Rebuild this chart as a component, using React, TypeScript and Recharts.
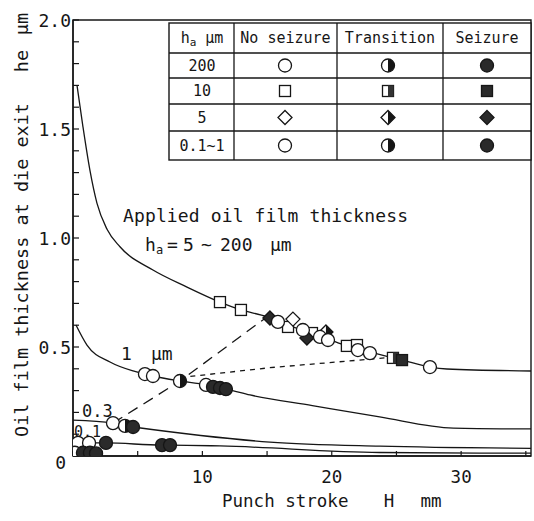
import React from 'react';
import { ComposedChart, Line, Scatter, XAxis, YAxis, ReferenceArea } from 'recharts';

const INK = '#161616';
const FONT = '"DejaVu Sans Mono", monospace';

// ---- curves (Punch stroke H mm, oil film thickness he um) ----
const appliedCurve = [
  { x: 0.31, y: 1.70 }, { x: 0.77, y: 1.51 }, { x: 1.31, y: 1.31 }, { x: 1.85, y: 1.16 },
  { x: 2.63, y: 1.04 }, { x: 3.63, y: 0.96 }, { x: 6.18, y: 0.853 }, { x: 8.81, y: 0.775 },
  { x: 11.36, y: 0.706 }, { x: 12.98, y: 0.67 }, { x: 14.99, y: 0.638 }, { x: 15.84, y: 0.615 },
  { x: 17.77, y: 0.578 }, { x: 19.71, y: 0.537 }, { x: 21.17, y: 0.505 }, { x: 22.95, y: 0.477 },
  { x: 24.73, y: 0.45 }, { x: 25.43, y: 0.44 }, { x: 27.59, y: 0.408 }, { x: 28.9, y: 0.399 },
  { x: 35.4, y: 0.39 },
];
const curve1um = [
  { x: 0.23, y: 0.601 }, { x: 1.08, y: 0.509 }, { x: 2.86, y: 0.431 }, { x: 4.64, y: 0.39 },
  { x: 5.56, y: 0.376 }, { x: 6.18, y: 0.367 }, { x: 8.27, y: 0.344 }, { x: 10.28, y: 0.326 },
  { x: 10.82, y: 0.317 }, { x: 11.36, y: 0.312 }, { x: 11.82, y: 0.307 }, { x: 13.68, y: 0.28 },
  { x: 18.5, y: 0.231 }, { x: 23.7, y: 0.179 }, { x: 29.4, y: 0.128 }, { x: 35.4, y: 0.124 },
];
const curve03 = [
  { x: 0, y: 0.165 }, { x: 3.09, y: 0.151 }, { x: 4.02, y: 0.138 }, { x: 4.64, y: 0.133 },
  { x: 15.22, y: 0.064 }, { x: 23.7, y: 0.045 }, { x: 35.4, y: 0.035 },
];
const curve01 = [
  { x: 0.39, y: 0.06 }, { x: 1.24, y: 0.06 }, { x: 2.55, y: 0.06 }, { x: 6.88, y: 0.05 },
  { x: 7.5, y: 0.05 }, { x: 11.36, y: 0.046 }, { x: 23.7, y: 0.016 }, { x: 35.4, y: 0.013 },
];
const longDashBoundary = [
  { x: 3.09, y: 0.151 }, { x: 8.27, y: 0.344 }, { x: 14.99, y: 0.638 },
];
const shortDashBoundary = [
  { x: 8.3, y: 0.36 }, { x: 15.2, y: 0.405 }, { x: 24.5, y: 0.452 },
];

// ---- markers ----
const noSeizureCircles = [
  { x: 15.84, y: 0.615 }, { x: 17.77, y: 0.578 }, { x: 19.09, y: 0.546 }, { x: 19.71, y: 0.532 },
  { x: 22.02, y: 0.486 }, { x: 22.95, y: 0.472 }, { x: 27.59, y: 0.408 },
  { x: 5.56, y: 0.376 }, { x: 6.18, y: 0.367 }, { x: 10.28, y: 0.326 },
  { x: 3.09, y: 0.151 }, { x: 0.39, y: 0.06 }, { x: 1.24, y: 0.06 }, { x: 0.15, y: 0.015 },
];
const transitionCircles = [{ x: 8.27, y: 0.344 }, { x: 4.02, y: 0.138 }];
const seizureCircles = [
  { x: 10.82, y: 0.317 }, { x: 11.36, y: 0.312 }, { x: 11.82, y: 0.307 }, { x: 4.64, y: 0.133 },
  { x: 2.55, y: 0.06 }, { x: 6.88, y: 0.05 }, { x: 7.5, y: 0.05 },
  { x: 0.77, y: 0.015 }, { x: 1.31, y: 0.015 }, { x: 1.78, y: 0.012 },
];
const noSeizureSquares = [
  { x: 11.36, y: 0.706 }, { x: 12.98, y: 0.67 }, { x: 16.62, y: 0.592 }, { x: 18.47, y: 0.564 },
  { x: 21.17, y: 0.505 }, { x: 21.95, y: 0.509 },
];
const transitionSquares = [{ x: 24.73, y: 0.45 }];
const seizureSquares = [{ x: 25.43, y: 0.44 }];
const noSeizureDiamonds = [{ x: 17.0, y: 0.628 }];
const transitionDiamonds = [{ x: 19.55, y: 0.569 }];
const seizureDiamonds = [{ x: 15.22, y: 0.633 }, { x: 18.08, y: 0.541 }];

// ---- ticks ----
const xTicks = [0, 5, 10, 15, 20, 25, 30, 35];
const xTickLabels = ['10', '20', '30'];
const yTicks = [0, 0.1, 0.2, 0.3, 0.4, 0.5, 0.6, 0.7, 0.8, 0.9, 1.0, 1.1, 1.2, 1.3, 1.4, 1.5, 1.6, 1.7, 1.8, 1.9, 2.0];
const yTickLabels = ['0', '0.5', '1.0', '1.5', '2.0'];

// ---- legend table ----
const tableHeaders = ['No seizure', 'Transition', 'Seizure'];
const tableRows = ['200', '10', '5', '0.1~1'];

// ---- marker shapes ----
const R = 6.5;
const OpenCircle = (p: any) => (
  <circle cx={p.cx} cy={p.cy} r={R} fill="#fff" stroke={INK} strokeWidth={1.3} />
);
const HalfCircle = (p: any) => (
  <g>
    <circle cx={p.cx} cy={p.cy} r={R} fill="#fff" stroke={INK} strokeWidth={1.3} />
    <path d={`M${p.cx},${p.cy - R} A${R},${R} 0 0 1 ${p.cx},${p.cy + R} Z`} fill={INK} />
  </g>
);
const FullCircle = (p: any) => (
  <circle cx={p.cx} cy={p.cy} r={R} fill="#2a2a2a" stroke={INK} strokeWidth={1.3} />
);
const S = 5.5;
const OpenSquare = (p: any) => (
  <rect x={p.cx - S} y={p.cy - S} width={2 * S} height={2 * S} fill="#fff" stroke={INK} strokeWidth={1.3} />
);
const HalfSquare = (p: any) => (
  <g>
    <rect x={p.cx - S} y={p.cy - S} width={2 * S} height={2 * S} fill="#fff" stroke={INK} strokeWidth={1.3} />
    <rect x={p.cx} y={p.cy - S} width={S} height={2 * S} fill="#333" />
  </g>
);
const FullSquare = (p: any) => (
  <rect x={p.cx - S} y={p.cy - S} width={2 * S} height={2 * S} fill="#2a2a2a" stroke={INK} strokeWidth={1.3} />
);
const D = 7;
const dPath = (cx: number, cy: number) => `M${cx},${cy - D} L${cx + D},${cy} L${cx},${cy + D} L${cx - D},${cy} Z`;
const OpenDiamond = (p: any) => <path d={dPath(p.cx, p.cy)} fill="#fff" stroke={INK} strokeWidth={1.3} />;
const HalfDiamond = (p: any) => (
  <g>
    <path d={dPath(p.cx, p.cy)} fill="#fff" stroke={INK} strokeWidth={1.3} />
    <path d={`M${p.cx},${p.cy - D} L${p.cx + D},${p.cy} L${p.cx},${p.cy + D} Z`} fill={INK} />
  </g>
);
const FullDiamond = (p: any) => <path d={dPath(p.cx, p.cy)} fill="#2a2a2a" stroke={INK} strokeWidth={1.3} />;

const fmtY = (v: number) => {
  const s = v === 0 ? '0' : v.toFixed(1);
  return yTickLabels.includes(s) ? s : '';
};
const fmtX = (v: number) => (xTickLabels.includes(String(v)) ? String(v) : '');

const YTick = (p: any) => {
  const lbl = fmtY(p.payload.value);
  if (!lbl) return <g />;
  const zero = p.payload.value === 0;
  return (
    <text x={zero ? p.x - 5 : p.x} y={p.y + (zero ? 13 : 6.5)} textAnchor="end" fontFamily={FONT} fontSize={18} fill={INK}>
      {lbl}
    </text>
  );
};
const XTick = (p: any) => {
  const lbl = fmtX(p.payload.value);
  if (!lbl) return <g />;
  return (
    <text x={p.x} y={p.y} textAnchor="middle" fontFamily={FONT} fontSize={17.5} fill={INK}>
      {lbl}
    </text>
  );
};

const colX = [169, 234, 337, 443, 531];
const rowY = [23, 53, 78, 104, 131, 160];
const rowShapes = [
  [OpenCircle, HalfCircle, FullCircle],
  [OpenSquare, HalfSquare, FullSquare],
  [OpenDiamond, HalfDiamond, FullDiamond],
  [OpenCircle, HalfCircle, FullCircle],
];
const markerX = [285, 388, 487];

const Overlay = () => (
  <svg width={534} height={521} style={{ position: 'absolute', left: 0, top: 0 }}>
    <text transform="translate(22,270) rotate(-90)" dy="0.35em" textAnchor="middle" fontFamily={FONT} fontSize={18.5} fill={INK} textLength={334} lengthAdjust="spacing">
      Oil film thickness at die exit
    </text>
    <text transform="translate(22,61) rotate(-90)" dy="0.35em" textAnchor="middle" fontFamily={FONT} fontSize={18.5} fill={INK}>he</text>
    <text transform="translate(22,24) rotate(-90)" dy="0.35em" textAnchor="middle" fontFamily={FONT} fontSize={18.5} fill={INK}>µm</text>
    <text x={222} y={507} fontFamily={FONT} fontSize={17.5} fill={INK}>Punch stroke</text>
    <text x={389} y={507} textAnchor="middle" fontFamily={FONT} fontSize={17.5} fill={INK}>H</text>
    <text x={431} y={507} textAnchor="middle" fontFamily={FONT} fontSize={17.5} fill={INK}>mm</text>
    <text x={123} y={222} fontFamily={FONT} fontSize={18} fill={INK} textLength={285} lengthAdjust="spacing">Applied oil film thickness</text>
    <text x={145} y={251} fontFamily={FONT} fontSize={18} fill={INK}>h</text>
    <text x={156} y={254} fontFamily={FONT} fontSize={12} fill={INK}>a</text>
    <text x={167} y={251} fontFamily={FONT} fontSize={18} fill={INK}>=</text>
    <text x={183} y={251} fontFamily={FONT} fontSize={18} fill={INK}>5</text>
    <text x={201} y={251} fontFamily={FONT} fontSize={18} fill={INK}>~</text>
    <text x={220} y={251} fontFamily={FONT} fontSize={18} fill={INK}>200</text>
    <text x={270} y={251} fontFamily={FONT} fontSize={18} fill={INK}>µm</text>
    <text x={121} y={360} fontFamily={FONT} fontSize={18} fill={INK}>1</text>
    <text x={151} y={360} fontFamily={FONT} fontSize={18} fill={INK}>µm</text>
    <text x={82} y={417} fontFamily={FONT} fontSize={17} fill={INK}>0.3</text>
    <text x={74} y={437} fontFamily={FONT} fontSize={15} fill={INK}>0.1</text>
  </svg>
);

const TableOverlay = () => (
  <svg width={534} height={521} style={{ position: 'absolute', left: 0, top: 0, pointerEvents: 'none' }}>
    <rect x={colX[0]} y={rowY[0]} width={colX[4] - colX[0]} height={rowY[5] - rowY[0]} fill="#fff" stroke={INK} strokeWidth={1.4} />
    {colX.slice(1, 4).map((cx) => (
      <line key={'c' + cx} x1={cx} x2={cx} y1={rowY[0]} y2={rowY[5]} stroke={INK} strokeWidth={1.3} />
    ))}
    {rowY.slice(1, 5).map((ry) => (
      <line key={'r' + ry} x1={colX[0]} x2={colX[4]} y1={ry} y2={ry} stroke={INK} strokeWidth={1.3} />
    ))}
    <text x={202} y={43} textAnchor="middle" fontFamily={FONT} fontSize={15} fill={INK}>
      h<tspan fontSize={11} dy={3}>a</tspan><tspan dy={-3}> µm</tspan>
    </text>
    {tableHeaders.map((h, i) => (
      <text key={h} x={(colX[i + 1] + colX[i + 2]) / 2} y={43} textAnchor="middle" fontFamily={FONT} fontSize={15} fill={INK}>
        {h}
      </text>
    ))}
    {tableRows.map((r, i) => {
      const cy = (rowY[i + 1] + rowY[i + 2]) / 2;
      return (
        <g key={r}>
          <text x={202} y={cy + 5} textAnchor="middle" fontFamily={FONT} fontSize={15} fill={INK}>{r}</text>
          {rowShapes[i].map((Sh, j) => (
            <Sh key={j} cx={markerX[j]} cy={cy} />
          ))}
        </g>
      );
    })}
  </svg>
);

export default function App() {
  return (
    <div style={{ position: 'absolute', left: 0, top: 0, width: 534, height: 521, overflow: 'hidden', background: '#fff' }}>
      <Overlay />
      <div style={{ position: 'absolute', left: 0, top: 0 }}>
        <ComposedChart width={534} height={521} margin={{ top: 20, right: 3, left: 0, bottom: 0 }}>
          <XAxis
            dataKey="x"
            type="number"
            domain={[0, 35.4]}
            allowDataOverflow
            ticks={xTicks}
            interval={0}
            height={65}
            tickSize={-5}
            tickMargin={32}
            tick={<XTick />}
            axisLine={{ stroke: INK, strokeWidth: 1.4 }}
            tickLine={{ stroke: INK, strokeWidth: 1.2 }}
          />
          <YAxis
            dataKey="y"
            type="number"
            domain={[0, 2]}
            allowDataOverflow
            ticks={yTicks}
            interval={0}
            width={73}
            tickSize={-6}
            tickMargin={8}
            tick={<YTick />}
            axisLine={{ stroke: INK, strokeWidth: 1.4 }}
            tickLine={{ stroke: INK, strokeWidth: 1.2 }}
          />
          <ReferenceArea x1={0} x2={35.4} y1={0} y2={2} fill="none" stroke={INK} strokeWidth={1.4} ifOverflow="visible" />
          <Line data={appliedCurve} dataKey="y" type="monotone" dot={false} stroke={INK} strokeWidth={1.3} isAnimationActive={false} />
          <Line data={curve1um} dataKey="y" type="monotone" dot={false} stroke={INK} strokeWidth={1.3} isAnimationActive={false} />
          <Line data={curve03} dataKey="y" type="monotone" dot={false} stroke={INK} strokeWidth={1.3} isAnimationActive={false} />
          <Line data={curve01} dataKey="y" type="monotone" dot={false} stroke={INK} strokeWidth={1.3} isAnimationActive={false} />
          <Line data={longDashBoundary} dataKey="y" type="linear" dot={false} stroke={INK} strokeWidth={1.3} strokeDasharray="11 7" isAnimationActive={false} />
          <Line data={shortDashBoundary} dataKey="y" type="linear" dot={false} stroke={INK} strokeWidth={1.3} strokeDasharray="5 5" isAnimationActive={false} />
          <Scatter data={noSeizureSquares} dataKey="y" shape={OpenSquare} isAnimationActive={false} />
          <Scatter data={transitionSquares} dataKey="y" shape={HalfSquare} isAnimationActive={false} />
          <Scatter data={seizureSquares} dataKey="y" shape={FullSquare} isAnimationActive={false} />
          <Scatter data={noSeizureDiamonds} dataKey="y" shape={OpenDiamond} isAnimationActive={false} />
          <Scatter data={transitionDiamonds} dataKey="y" shape={HalfDiamond} isAnimationActive={false} />
          <Scatter data={seizureDiamonds} dataKey="y" shape={FullDiamond} isAnimationActive={false} />
          <Scatter data={noSeizureCircles} dataKey="y" shape={OpenCircle} isAnimationActive={false} />
          <Scatter data={transitionCircles} dataKey="y" shape={HalfCircle} isAnimationActive={false} />
          <Scatter data={seizureCircles} dataKey="y" shape={FullCircle} isAnimationActive={false} />
        </ComposedChart>
      </div>
      <TableOverlay />
    </div>
  );
}
